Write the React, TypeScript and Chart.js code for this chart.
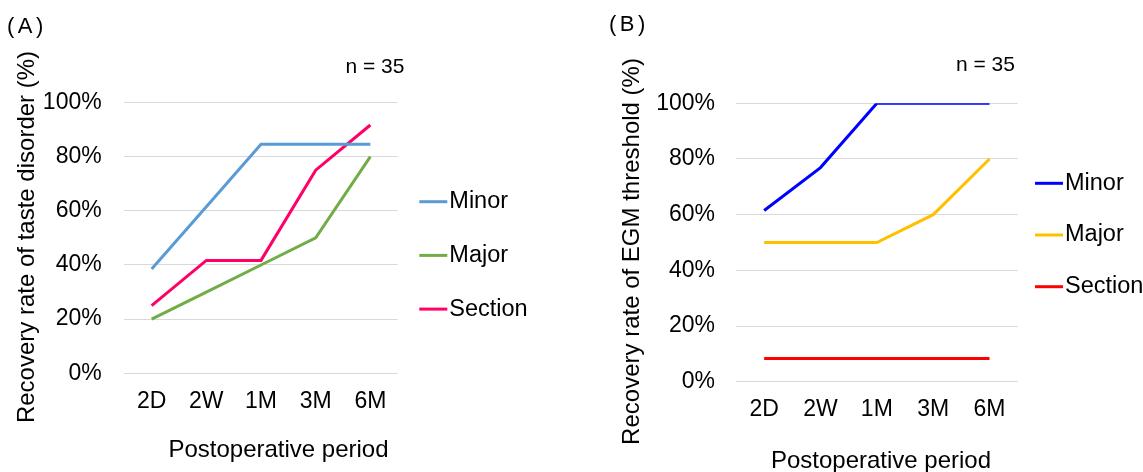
import React, { useEffect, useRef } from 'react';
import { Chart, registerables } from 'chart.js';

Chart.register(...registerables);

const FONT = '"Liberation Sans", Arial, Helvetica, sans-serif';

// ---- data ----
const categories = ['2D', '2W', '1M', '3M', '6M'];
const seriesNames = ['Minor', 'Major', 'Section'];
const tasteMinor = [38.5, 61.5, 84.6, 84.6, 84.6];
const tasteMajor = [20, 30, 40, 50, 80];
const tasteSection = [25, 41.7, 41.7, 75, 91.7];
const egmMinor = [61.5, 76.9, 100, 100, 100];
const egmMajor = [50, 50, 50, 60, 80];
const egmSection = [8.3, 8.3, 8.3, 8.3, 8.3];
const yMin = 0;
const yMax = 100;
const yStep = 20;
const panelLabels = ['(A)', '(B)'];
const sampleNote = 'n = 35';
const xTitle = 'Postoperative period';
const yTitleA = 'Recovery rate of taste disorder (%)';
const yTitleB = 'Recovery rate of EGM threshold (%)';
const colorsA = ['#5B9BD5', '#70AD47', '#FF0066'];
const colorsB = ['#0000FF', '#FFC000', '#FF0000'];

type PanelCfg = {
  left: number;
  width: number;
  label: string;
  labelPos: { left: number; top: number };
  notePos: { left: number; top: number };
  yTitle: string;
  series: number[][];
  colors: string[];
  pad: { left: number; top: number; right: number; bottom: number };
  yAxisWidth: number;
  xAxisHeight: number;
  yTickPad: number;
  xTickPad: number;
  legendX: number;
  legendY: number;
  legendDy: number;
  xTitleX: number;
  xTitleY: number;
  yTitleX: number;
  yTitleY: number;
};

const panels: PanelCfg[] = [
  {
    left: 0,
    width: 560,
    label: panelLabels[0],
    labelPos: { left: 7, top: 14.5 },
    notePos: { left: 345.5, top: 54.5 },
    yTitle: yTitleA,
    series: [tasteMinor, tasteMajor, tasteSection],
    colors: colorsA,
    pad: { left: 9, top: 102.5, right: 162.3, bottom: 58.7 },
    yAxisWidth: 115.3,
    xAxisHeight: 40,
    yTickPad: 22.6,
    xTickPad: 15,
    legendX: 419.3,
    legendY: 201.7,
    legendDy: 53.7,
    xTitleX: 278.5,
    xTitleY: 450,
    yTitleX: 27.5,
    yTitleY: 237,
  },
  {
    left: 600,
    width: 543,
    label: panelLabels[1],
    labelPos: { left: 9, top: 12.5 },
    notePos: { left: 356, top: 53 },
    yTitle: yTitleB,
    series: [egmMinor, egmMajor, egmSection],
    colors: colorsB,
    pad: { left: 13.6, top: 103.3, right: 125.3, bottom: 50.3 },
    yAxisWidth: 122.4,
    xAxisHeight: 40,
    yTickPad: 21,
    xTickPad: 14.5,
    legendX: 435,
    legendY: 183.3,
    legendDy: 51.7,
    xTitleX: 281,
    xTitleY: 461.7,
    yTitleX: 32,
    yTitleY: 251.5,
  },
];

function makeOverlay(cfg: PanelCfg) {
  return {
    id: 'panelOverlay',
    afterDraw(chart: any) {
      const ctx = chart.ctx as CanvasRenderingContext2D;
      ctx.save();
      chart.data.datasets.forEach((ds: any, i: number) => {
        const y = cfg.legendY + i * cfg.legendDy;
        ctx.strokeStyle = ds.borderColor;
        ctx.lineWidth = 3;
        ctx.beginPath();
        ctx.moveTo(cfg.legendX, y);
        ctx.lineTo(cfg.legendX + 28, y);
        ctx.stroke();
        ctx.fillStyle = '#000';
        ctx.font = `23.5px ${FONT}`;
        ctx.textBaseline = 'middle';
        ctx.textAlign = 'left';
        ctx.fillText(ds.label, cfg.legendX + 30, y);
      });
      ctx.font = `24px ${FONT}`;
      ctx.textAlign = 'center';
      ctx.textBaseline = 'middle';
      ctx.fillStyle = '#000';
      ctx.fillText(xTitle, cfg.xTitleX, cfg.xTitleY);
      ctx.translate(cfg.yTitleX, cfg.yTitleY);
      ctx.rotate(-Math.PI / 2);
      ctx.fillText(cfg.yTitle, 0, 0);
      ctx.restore();
    },
  };
}

function Panel({ cfg }: { cfg: PanelCfg }) {
  const ref = useRef<HTMLCanvasElement>(null);
  useEffect(() => {
    const chart = new Chart(ref.current as HTMLCanvasElement, {
      type: 'line',
      data: {
        labels: categories,
        datasets: seriesNames.map((name, i) => ({
          label: name,
          data: cfg.series[i],
          borderColor: cfg.colors[i],
          backgroundColor: cfg.colors[i],
          borderWidth: 3,
          pointRadius: 0,
          pointHoverRadius: 0,
          tension: 0,
          fill: false,
        })),
      },
      options: {
        responsive: false,
        animation: false,
        events: [],
        layout: { padding: cfg.pad },
        plugins: {
          legend: { display: false },
          tooltip: { enabled: false },
          title: { display: false },
        },
        scales: {
          x: {
            type: 'category',
            offset: true,
            grid: { display: false, drawTicks: false },
            border: { display: false },
            ticks: {
              color: '#000',
              padding: cfg.xTickPad,
              font: { family: FONT, size: 23 },
              maxRotation: 0,
              autoSkip: false,
            },
            afterFit: (scale: any) => {
              scale.height = cfg.xAxisHeight;
            },
          },
          y: {
            min: yMin,
            max: yMax,
            grid: { color: '#D9D9D9', lineWidth: 1, drawTicks: false },
            border: { display: false },
            ticks: {
              stepSize: yStep,
              color: '#000',
              padding: cfg.yTickPad,
              font: { family: FONT, size: 23 },
              callback: (v: any) => `${v}%`,
            },
            title: { display: false },
            afterFit: (scale: any) => {
              scale.width = cfg.yAxisWidth;
            },
          },
        },
      },
      plugins: [makeOverlay(cfg)],
    } as any);
    return () => chart.destroy();
  }, [cfg]);

  const textStyle: React.CSSProperties = {
    position: 'absolute',
    fontFamily: FONT,
    color: '#000',
    lineHeight: 1,
    whiteSpace: 'nowrap',
    margin: 0,
  };

  return (
    <div style={{ position: 'absolute', left: cfg.left, top: 0, width: cfg.width, height: 472 }}>
      <canvas ref={ref} width={cfg.width} height={472} style={{ display: 'block' }} />
      <div style={{ ...textStyle, left: cfg.labelPos.left, top: cfg.labelPos.top, fontSize: 22, letterSpacing: 3.5 }}>
        {cfg.label}
      </div>
      <div style={{ ...textStyle, left: cfg.notePos.left, top: cfg.notePos.top, fontSize: 21 }}>{sampleNote}</div>
    </div>
  );
}

export default function App() {
  return (
    <div
      style={{
        position: 'absolute',
        left: 0,
        top: 0,
        width: 1143,
        height: 472,
        overflow: 'hidden',
        background: '#fff',
      }}
    >
      {panels.map((p) => (
        <Panel key={p.label} cfg={p} />
      ))}
    </div>
  );
}
